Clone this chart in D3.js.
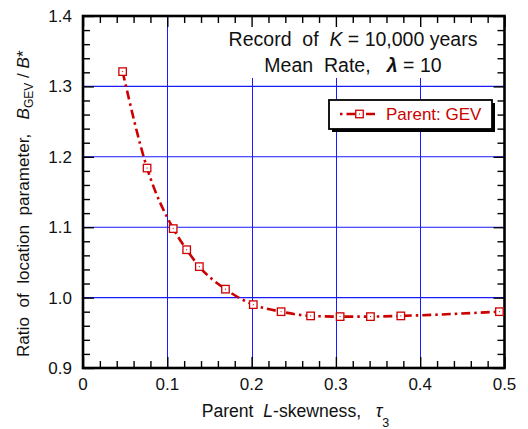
<!DOCTYPE html>
<html>
<head>
<meta charset="utf-8">
<script src="https://cdn.jsdelivr.net/npm/d3@7"></script>
<style>
  html, body { margin: 0; padding: 0; background: #fff; }
  svg { display: block; font-family: Arial, "Liberation Sans", sans-serif; }
  text { white-space: pre; }
</style>
</head>
<body>
<svg id="chart" width="528" height="429"></svg>
<script>
// Parent L-skewness (tau_3) and ratio of location parameters B_GEV / B*
const tau3  = [0.047, 0.076, 0.107, 0.123, 0.138, 0.169, 0.202, 0.235, 0.270, 0.305, 0.341, 0.377, 0.494];
const ratio = [1.321, 1.184, 1.098, 1.068, 1.044, 1.012, 0.990, 0.980, 0.974, 0.973, 0.973, 0.974, 0.980];

const xMajor = [0, 0.1, 0.2, 0.3, 0.4, 0.5];
const xMajorLabels = ["0", "0.1", "0.2", "0.3", "0.4", "0.5"];
const yMajor = [0.9, 1.0, 1.1, 1.2, 1.3, 1.4];
const yMajorLabels = ["0.9", "1.0", "1.1", "1.2", "1.3", "1.4"];
const xGrid = [0.1, 0.2, 0.3, 0.4];
const yGrid = [1.0, 1.1, 1.2, 1.3];

const seriesName = "Parent: GEV";
const red = "#cc0000";
const gridBlue = "#1a1aff";

const svg = d3.select("#chart");
const L = 83, R = 504.5, T = 16, B = 368;
const x = d3.scaleLinear().domain([0, 0.5]).range([L, R]);
const y = d3.scaleLinear().domain([0.9, 1.4]).range([B, T]);

// grid
const grid = svg.append("g");
grid.selectAll("line.h").data(yGrid).join("line")
  .attr("x1", L).attr("x2", R)
  .attr("y1", d => y(d)).attr("y2", d => y(d))
  .attr("stroke", gridBlue).attr("stroke-width", 1.1);
grid.selectAll("line.v").data(xGrid).join("line")
  .attr("x1", d => Math.round(x(d)) + 0.5).attr("x2", d => Math.round(x(d)) + 0.5)
  .attr("y1", T).attr("y2", B)
  .attr("stroke", gridBlue).attr("stroke-width", 1);

// white panel behind the annotation
svg.append("rect").attr("x", 200).attr("y", T + 1).attr("width", R - 201).attr("height", 78 - T - 1)
  .attr("fill", "#fff");

// ticks (inward, all four sides)
const minorX = d3.range(0, 0.5001, 0.02).filter(v => Math.abs(v * 10 - Math.round(v * 10)) > 1e-6);
const minorY = d3.range(0.9, 1.4001, 0.02).filter(v => Math.abs(v * 10 - Math.round(v * 10)) > 1e-6);

function styleAxis(g) {
  g.select(".domain").remove();
  g.selectAll(".tick line").attr("stroke", "#000").attr("stroke-width", 1.4);
  g.selectAll(".tick text").remove();
}
svg.append("g").attr("transform", `translate(0,${B})`)
  .call(d3.axisBottom(x).tickValues(xMajor).tickSize(-11)).call(styleAxis);
svg.append("g").attr("transform", `translate(0,${B})`)
  .call(d3.axisBottom(x).tickValues(minorX).tickSize(-7)).call(styleAxis);
svg.append("g").attr("transform", `translate(0,${T})`)
  .call(d3.axisTop(x).tickValues(xMajor).tickSize(-11)).call(styleAxis);
svg.append("g").attr("transform", `translate(0,${T})`)
  .call(d3.axisTop(x).tickValues(minorX).tickSize(-7)).call(styleAxis);
svg.append("g").attr("transform", `translate(${L},0)`)
  .call(d3.axisLeft(y).tickValues(yMajor).tickSize(-11)).call(styleAxis);
svg.append("g").attr("transform", `translate(${L},0)`)
  .call(d3.axisLeft(y).tickValues(minorY).tickSize(-7)).call(styleAxis);
svg.append("g").attr("transform", `translate(${R},0)`)
  .call(d3.axisRight(y).tickValues(yMajor).tickSize(-11)).call(styleAxis);
svg.append("g").attr("transform", `translate(${R},0)`)
  .call(d3.axisRight(y).tickValues(minorY).tickSize(-7)).call(styleAxis);

// frame
svg.append("rect").attr("x", L).attr("y", T).attr("width", R - L).attr("height", B - T)
  .attr("fill", "none").attr("stroke", "#000").attr("stroke-width", 2.6);

// tick labels
svg.append("g").selectAll("text").data(xMajor).join("text")
  .attr("x", d => x(d)).attr("y", 390)
  .attr("text-anchor", "middle").attr("font-size", 17).attr("fill", "#111")
  .text((d, i) => xMajorLabels[i]);
svg.append("g").selectAll("text").data(yMajor).join("text")
  .attr("x", 72).attr("y", d => y(d) + 6)
  .attr("text-anchor", "end").attr("font-size", 17).attr("fill", "#111")
  .text((d, i) => yMajorLabels[i]);

// series
const pts = tau3.map((t, i) => [t, ratio[i]]);
const line = d3.line().x(d => x(d[0])).y(d => y(d[1])).curve(d3.curveMonotoneX);
svg.append("path").attr("d", line(pts))
  .attr("fill", "none").attr("stroke", red).attr("stroke-width", 2.6)
  .attr("stroke-dasharray", "9,4,2.5,4");

function marker(g, cx, cy) {
  g.append("rect").attr("x", cx - 3.75).attr("y", cy - 3.75).attr("width", 7.5).attr("height", 7.5)
    .attr("fill", "#fff").attr("stroke", red).attr("stroke-width", 1.3);
  g.append("rect").attr("x", cx - 0.5).attr("y", cy - 0.5).attr("width", 1).attr("height", 1)
    .attr("fill", red);
}
const mk = svg.append("g");
pts.forEach(d => marker(mk, x(d[0]), y(d[1])));

// annotation
const ann = svg.append("g").attr("font-size", 19.5).attr("fill", "#111").attr("text-anchor", "middle");
const a1 = ann.append("text").attr("x", 353).attr("y", 46);
a1.append("tspan").text("Record\u00a0 of\u00a0 ");
a1.append("tspan").attr("font-style", "italic").text("K");
a1.append("tspan").text(" = 10,000 years");
const a2 = ann.append("text").attr("x", 353).attr("y", 72);
a2.append("tspan").text("Mean\u00a0 Rate,\u00a0\u00a0 ");
a2.append("tspan").attr("font-style", "italic").attr("font-weight", "bold").text("λ");
a2.append("tspan").text(" = 10");

// legend
const lg = svg.append("g");
lg.append("rect").attr("x", 332).attr("y", 103).attr("width", 163).attr("height", 29).attr("fill", "#000");
lg.append("rect").attr("x", 329).attr("y", 100).attr("width", 163).attr("height", 29)
  .attr("fill", "#fff").attr("stroke", "#000").attr("stroke-width", 1.8);
lg.append("line").attr("x1", 340).attr("x2", 377).attr("y1", 114).attr("y2", 114)
  .attr("stroke", red).attr("stroke-width", 2.6).attr("stroke-dasharray", "2.5,4,9,4");
marker(lg, 359.5, 114);
lg.append("text").attr("x", 386).attr("y", 120).attr("font-size", 17).attr("fill", red).text(seriesName);

// axis titles
const xt = svg.append("text").attr("x", 295.5).attr("y", 417).attr("text-anchor", "middle")
  .attr("font-size", 17.6).attr("fill", "#111");
xt.append("tspan").text("Parent\u00a0 ");
xt.append("tspan").attr("font-style", "italic").text("L");
xt.append("tspan").text("-skewness,\u00a0\u00a0 ");
xt.append("tspan").attr("font-style", "italic").text("τ");
xt.append("tspan").attr("font-size", 12.5).attr("dy", 10).text("3");

const yt = svg.append("text").attr("transform", "translate(29,357) rotate(-90)")
  .attr("text-anchor", "start").attr("font-size", 17.1).attr("fill", "#111");
yt.append("tspan").text("Ratio\u00a0 of\u00a0 location\u00a0 parameter,\u00a0\u00a0 ");
yt.append("tspan").attr("font-style", "italic").text("B");
yt.append("tspan").attr("font-size", 12).attr("dy", 4).text("GEV");
yt.append("tspan").attr("dy", -4).text(" / ");
yt.append("tspan").attr("font-style", "italic").text("B");
yt.append("tspan").text("*");
</script>
</body>
</html>
